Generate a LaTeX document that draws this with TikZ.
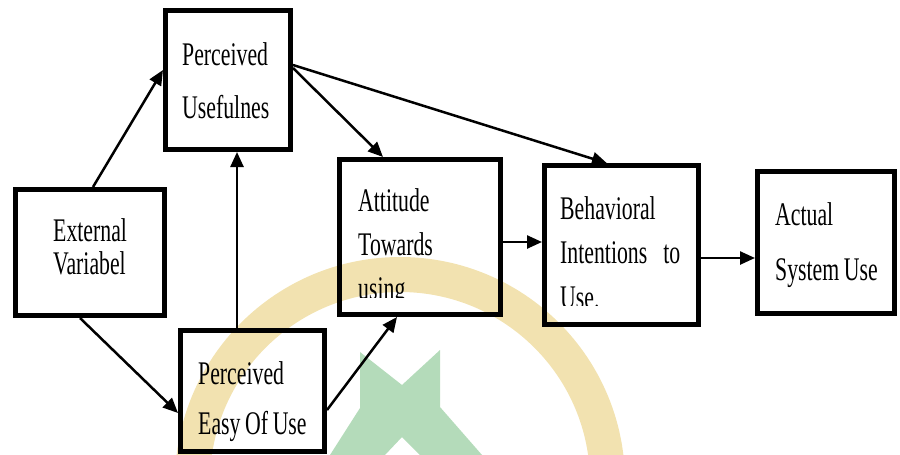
\documentclass[tikz,border=0pt]{standalone}
\usepackage{fontspec}
\setmainfont{Liberation Serif}[FakeStretch=0.66]
\usetikzlibrary{arrows.meta}
\definecolor{wmyellow}{RGB}{242,226,176}
\definecolor{wmgreen}{RGB}{180,219,186}
\newcommand\boxlines[3]{\parbox[t]{#1}{\fontsize{33pt}{#2}\selectfont\spaceskip=0.14em plus 0.05em\raggedright #3}}

\begin{document}
\begin{tikzpicture}[x=1pt,y=-1pt,
	box/.style={draw,line width=5pt},
	txt/.style={inner sep=0pt,anchor=base west},
	arr/.style={line width=2.5pt,-{Triangle[length=15pt,width=13pt]}}]
	\useasboundingbox (0,0) rectangle (900,455);
	\begin{scope}
		\clip (0,0) rectangle (900,455);
		\draw[wmyellow,line width=35pt] (400,482) circle[radius=207.5];
		\fill[wmgreen] (360,352) -- (402,385) -- (440,350) -- (440,407) -- (482,455) -- (420,455)
			-- (402,437) -- (385,455) -- (330,455) -- (360,408) -- cycle;
	\end{scope}
	\node[box,minimum width=125pt,minimum height=139pt] (pu) at (228,80) {};
	\node[box,minimum width=149pt,minimum height=126pt] (ext) at (90,252.5) {};
	\node[box,minimum width=144pt,minimum height=121pt] (peu) at (252.5,391) {};
	\node[box,minimum width=161pt,minimum height=155pt] (att) at (420,237) {};
	\node[box,minimum width=154pt,minimum height=158.5pt] (beh) at (621.5,245) {};
	\node[box,minimum width=137pt,minimum height=142pt] (act) at (826,242) {};
	\node[txt] (pu-t) at (182,65) {\boxlines{110pt}{53pt}{Perceived\\Usefulnes}};
	\node[txt] (ext-t) at (53,241) {\boxlines{110pt}{33pt}{External\\Variabel}};
	\node[txt] (peu-t) at (198,384) {\boxlines{125pt}{50pt}{Perceived\\Easy Of Use}};
	\begin{scope}
		\clip (att.north west) rectangle ([yshift=20pt]att.south east);
		\node[txt] (att-t) at (358,211) {\boxlines{140pt}{44pt}{Attitude\\Towards\\using}};
	\end{scope}
	\begin{scope}
		\clip (beh.north west) rectangle ([yshift=21.5pt]beh.south east);
		\node[txt] (beh-t) at (560,219) {\boxlines{120pt}{44.5pt}{Behavioral\\Intentions\hfill to\\Use.}};
	\end{scope}
	\node[txt] (act-t) at (775,225) {\boxlines{115pt}{55pt}{Actual\\System Use}};
	\draw[arr] ([xshift=3pt]ext.north) -- ([yshift=10pt]pu.west);
	\draw[arr] ([xshift=-10pt]ext.south) -- ([yshift=-22pt]peu.west);
	\draw[arr] ([xshift=-15.5pt]peu.north) -- ([xshift=-15.5pt]peu.north |- pu.south);
	\draw[arr] ([yshift=-19pt]peu.east) -- ([xshift=-23pt]att.south);
	\draw[arr] ([yshift=12pt]pu.east) -- ([xshift=-37pt]att.north);
	\draw[arr] ([yshift=15pt]pu.east) -- ([xshift=-14.5pt]beh.north);
	\draw[arr] ([yshift=-5pt]att.east) -- ([yshift=-5pt]att.east -| beh.west);
	\draw[arr] ([yshift=-13pt]beh.east) -- ([yshift=-13pt]beh.east -| act.west);
\end{tikzpicture}
\end{document}
